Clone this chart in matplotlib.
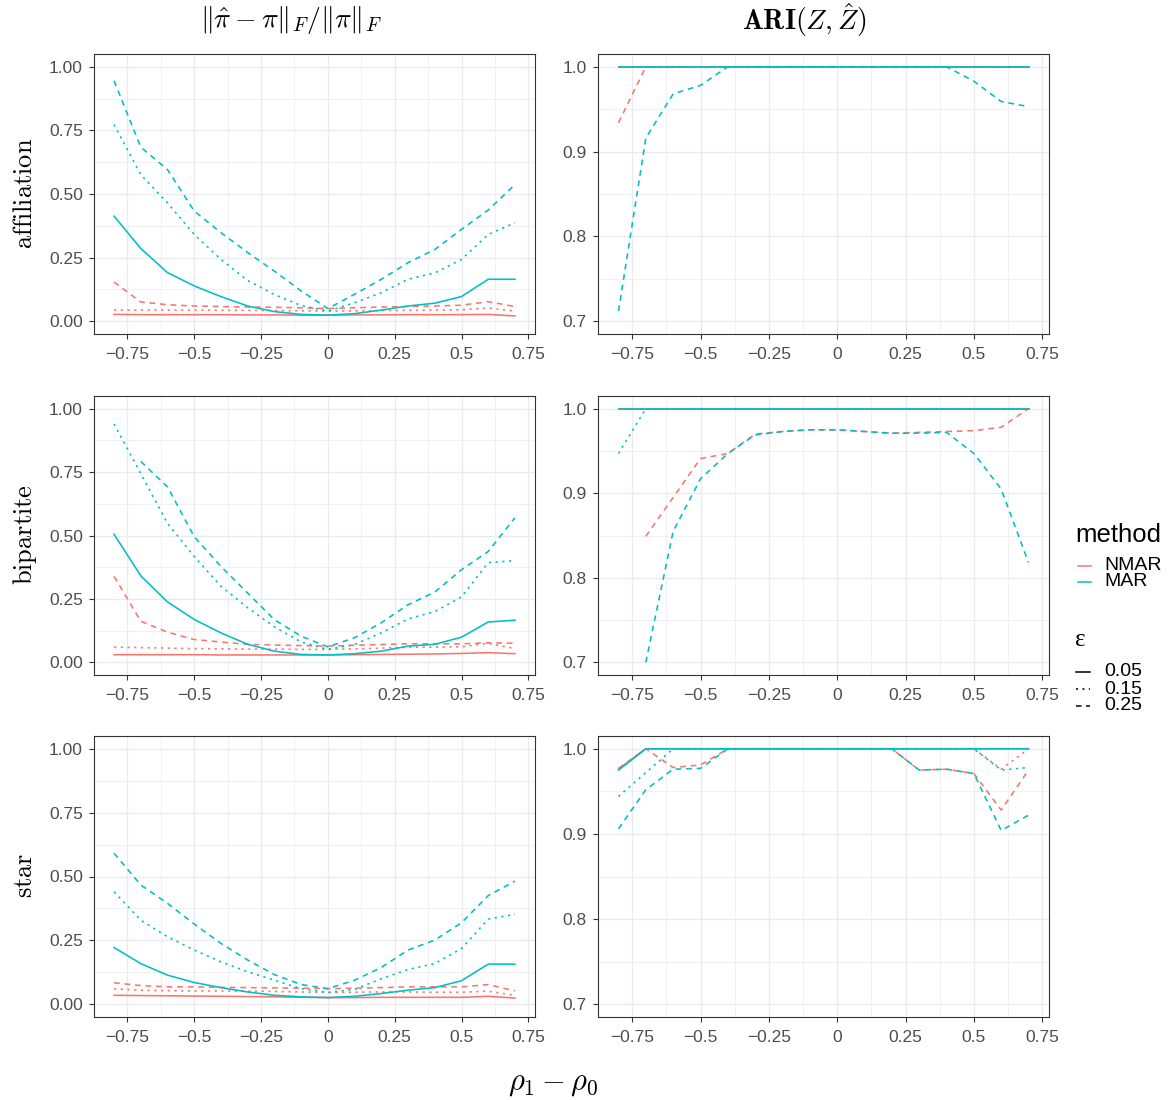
import numpy as np
import matplotlib
matplotlib.use('Agg')
import matplotlib.pyplot as plt
from matplotlib.lines import Line2D

plt.rcParams['font.family'] = ['Liberation Sans', 'DejaVu Sans']
plt.rcParams['mathtext.fontset'] = 'cm'

nan = np.nan
rho = [-0.8, -0.7, -0.6, -0.5, -0.4, -0.3, -0.2, -0.1, 0.0, 0.1, 0.2, 0.3, 0.4, 0.5, 0.6, 0.7]
methods = ['NMAR', 'MAR']
eps = ['0.05', '0.15', '0.25']
networks = ['affiliation', 'bipartite', 'star']

# relative Frobenius error of pi
err_aff = {
    ('NMAR', '0.05'): [0.027, 0.026, 0.026, 0.026, 0.026, 0.025, 0.025, 0.024, 0.024, 0.025, 0.025, 0.026, 0.026, 0.026, 0.027, 0.021],
    ('NMAR', '0.15'): [0.044, 0.044, 0.044, 0.044, 0.043, 0.043, 0.042, 0.041, 0.040, 0.041, 0.042, 0.043, 0.044, 0.045, 0.052, 0.040],
    ('NMAR', '0.25'): [0.154, 0.076, 0.065, 0.060, 0.058, 0.056, 0.055, 0.053, 0.050, 0.053, 0.056, 0.058, 0.060, 0.063, 0.077, 0.058],
    ('MAR', '0.05'): [0.413, 0.286, 0.191, 0.139, 0.097, 0.060, 0.038, 0.027, 0.024, 0.030, 0.044, 0.060, 0.071, 0.097, 0.165, 0.165],
    ('MAR', '0.15'): [0.773, 0.576, 0.465, 0.341, 0.243, 0.160, 0.105, 0.062, 0.040, 0.073, 0.112, 0.165, 0.190, 0.243, 0.341, 0.387],
    ('MAR', '0.25'): [0.945, 0.684, 0.596, 0.433, 0.348, 0.270, 0.197, 0.119, 0.050, 0.106, 0.165, 0.230, 0.282, 0.361, 0.437, 0.537],
}
err_bip = {
    ('NMAR', '0.05'): [0.030, 0.030, 0.030, 0.030, 0.029, 0.029, 0.029, 0.029, 0.029, 0.030, 0.031, 0.032, 0.033, 0.035, 0.038, 0.034],
    ('NMAR', '0.15'): [0.060, 0.058, 0.056, 0.054, 0.053, 0.052, 0.052, 0.051, 0.051, 0.053, 0.056, 0.059, 0.060, 0.061, 0.075, 0.054],
    ('NMAR', '0.25'): [0.339, 0.162, 0.119, 0.090, 0.080, 0.071, 0.068, 0.066, 0.064, 0.067, 0.070, 0.073, 0.073, 0.073, 0.077, 0.075],
    ('MAR', '0.05'): [0.505, 0.341, 0.238, 0.169, 0.116, 0.071, 0.044, 0.031, 0.029, 0.034, 0.044, 0.064, 0.071, 0.099, 0.159, 0.166],
    ('MAR', '0.15'): [0.940, 0.744, 0.548, 0.417, 0.300, 0.215, 0.140, 0.080, 0.051, 0.070, 0.116, 0.171, 0.200, 0.258, 0.393, 0.401],
    ('MAR', '0.25'): [nan, 0.792, 0.692, 0.495, 0.378, 0.273, 0.168, 0.103, 0.061, 0.097, 0.156, 0.227, 0.277, 0.365, 0.437, 0.570],
}
err_star = {
    ('NMAR', '0.05'): [0.035, 0.034, 0.033, 0.032, 0.031, 0.030, 0.029, 0.027, 0.026, 0.026, 0.027, 0.027, 0.027, 0.027, 0.031, 0.024],
    ('NMAR', '0.15'): [0.060, 0.055, 0.053, 0.052, 0.052, 0.051, 0.050, 0.048, 0.046, 0.047, 0.048, 0.048, 0.047, 0.047, 0.051, 0.035],
    ('NMAR', '0.25'): [0.084, 0.073, 0.068, 0.068, 0.066, 0.065, 0.064, 0.063, 0.061, 0.063, 0.065, 0.068, 0.068, 0.068, 0.077, 0.052],
    ('MAR', '0.05'): [0.222, 0.159, 0.114, 0.085, 0.065, 0.048, 0.035, 0.029, 0.026, 0.031, 0.042, 0.055, 0.065, 0.092, 0.157, 0.157],
    ('MAR', '0.15'): [0.440, 0.329, 0.264, 0.212, 0.166, 0.127, 0.094, 0.061, 0.046, 0.058, 0.100, 0.136, 0.159, 0.218, 0.333, 0.352],
    ('MAR', '0.25'): [0.591, 0.467, 0.395, 0.314, 0.238, 0.173, 0.116, 0.077, 0.061, 0.094, 0.144, 0.212, 0.251, 0.319, 0.425, 0.482],
}

# adjusted rand index
ari_aff = {
    ('NMAR', '0.05'): [1.0] * 16,
    ('NMAR', '0.15'): [1.0] * 16,
    ('NMAR', '0.25'): [0.934, 1.0, 1.0, 1.0, 1.0, 1.0, 1.0, 1.0, 1.0, 1.0, 1.0, 1.0, 1.0, 1.0, 1.0, 1.0],
    ('MAR', '0.05'): [1.0] * 16,
    ('MAR', '0.15'): [1.0] * 16,
    ('MAR', '0.25'): [0.712, 0.916, 0.968, 0.978, 1.0, 1.0, 1.0, 1.0, 1.0, 1.0, 1.0, 1.0, 1.0, 0.983, 0.959, 0.953],
}
ari_bip = {
    ('NMAR', '0.05'): [1.0] * 16,
    ('NMAR', '0.15'): [1.0] * 16,
    ('NMAR', '0.25'): [nan, 0.849, 0.895, 0.941, 0.947, 0.970, 0.973, 0.975, 0.975, 0.973, 0.971, 0.972, 0.973, 0.974, 0.978, 1.0],
    ('MAR', '0.05'): [1.0] * 16,
    ('MAR', '0.15'): [0.947, 1.0, 1.0, 1.0, 1.0, 1.0, 1.0, 1.0, 1.0, 1.0, 1.0, 1.0, 1.0, 1.0, 1.0, 1.0],
    ('MAR', '0.25'): [nan, 0.700, 0.855, 0.917, 0.947, 0.969, 0.973, 0.975, 0.975, 0.973, 0.971, 0.971, 0.972, 0.947, 0.905, 0.818],
}
ari_star = {
    ('NMAR', '0.05'): [0.976, 1.0, 1.0, 1.0, 1.0, 1.0, 1.0, 1.0, 1.0, 1.0, 1.0, 1.0, 1.0, 1.0, 1.0, 1.0],
    ('NMAR', '0.15'): [0.976, 1.0, 1.0, 1.0, 1.0, 1.0, 1.0, 1.0, 1.0, 1.0, 1.0, 1.0, 1.0, 1.0, 0.976, 1.0],
    ('NMAR', '0.25'): [0.977, 1.0, 0.978, 0.981, 1.0, 1.0, 1.0, 1.0, 1.0, 1.0, 1.0, 0.975, 0.976, 0.971, 0.928, 0.975],
    ('MAR', '0.05'): [0.975, 1.0, 1.0, 1.0, 1.0, 1.0, 1.0, 1.0, 1.0, 1.0, 1.0, 1.0, 1.0, 1.0, 1.0, 1.0],
    ('MAR', '0.15'): [0.944, 0.972, 1.0, 1.0, 1.0, 1.0, 1.0, 1.0, 1.0, 1.0, 1.0, 1.0, 1.0, 1.0, 0.975, 0.978],
    ('MAR', '0.25'): [0.906, 0.952, 0.976, 0.977, 1.0, 1.0, 1.0, 1.0, 1.0, 1.0, 1.0, 0.975, 0.976, 0.971, 0.904, 0.922],
}

err_data = [err_aff, err_bip, err_star]
ari_data = [ari_aff, ari_bip, ari_star]

colors = {'NMAR': '#F8766D', 'MAR': '#00BFC4'}
styles = {'0.05': '-', '0.15': (0, (1.4, 2.8)), '0.25': (0, (3.6, 3.0))}

x_ticks = [-0.75, -0.5, -0.25, 0, 0.25, 0.5, 0.75]
x_labels = ['\u22120.75', '\u22120.5', '\u22120.25', '0', '0.25', '0.5', '0.75']
x_minor = [-0.625, -0.375, -0.125, 0.125, 0.375, 0.625]
err_ticks = [0, 0.25, 0.5, 0.75, 1.0]
err_labels = ['0.00', '0.25', '0.50', '0.75', '1.00']
err_minor = [0.125, 0.375, 0.625, 0.875]
ari_ticks = [0.7, 0.8, 0.9, 1.0]
ari_labels = ['0.7', '0.8', '0.9', '1.0']
ari_minor = [0.75, 0.85, 0.95]

W, H = 1172, 1100
fig = plt.figure(figsize=(W / 100, H / 100), dpi=100)


def px(x, y):
    return x / W, 1 - y / H


def style_ax(ax, yt, yl, ym, ylim):
    ax.set_xlim(-0.875, 0.775)
    ax.set_ylim(*ylim)
    ax.set_xticks(x_ticks)
    ax.set_xticklabels(x_labels)
    ax.set_xticks(x_minor, minor=True)
    ax.set_yticks(yt)
    ax.set_yticklabels(yl)
    ax.set_yticks(ym, minor=True)
    ax.grid(which='major', color='#EBEBEB', lw=1.0)
    ax.grid(which='minor', color='#EBEBEB', lw=0.5)
    ax.set_axisbelow(True)
    for s in ax.spines.values():
        s.set_color('#333333')
        s.set_linewidth(0.8)
    ax.tick_params(which='major', length=3.5, width=0.8, color='#333333',
                   labelsize=12.5, labelcolor='#4D4D4D')
    ax.tick_params(axis='x', pad=5.5)
    ax.tick_params(axis='y', pad=4.5)
    ax.tick_params(which='minor', length=0)


rows_px = [(54, 334), (396, 675), (736, 1017)]
for i, net in enumerate(networks):
    top, bot = rows_px[i]
    b = 1 - bot / H
    h = (bot - top) / H
    ax1 = fig.add_axes([94 / W, b, 441 / W, h])
    ax2 = fig.add_axes([598 / W, b, 451 / W, h])
    for m in methods:
        for e in eps:
            ax1.plot(rho, err_data[i][(m, e)], color=colors[m], ls=styles[e], lw=1.15)
            ax2.plot(rho, ari_data[i][(m, e)], color=colors[m], ls=styles[e], lw=1.15)
    style_ax(ax1, err_ticks, err_labels, err_minor, (-0.05, 1.05))
    style_ax(ax2, ari_ticks, ari_labels, ari_minor, (0.685, 1.015))
    fig.text(*px(25, (top + bot) / 2 - 1), r'$\mathrm{%s}$' % net, rotation=90,
             ha='center', va='center', fontsize=19)

fig.text(*px(291, 20), r'$\|\hat{\pi}-\pi\|_F/\|\pi\|_F$', ha='center', va='center', fontsize=20)
fig.text(*px(804, 20), r'$\mathbf{ARI}(Z,\hat{Z})$', ha='center', va='center', fontsize=20)
fig.text(*px(553, 1083), r'$\rho_1-\rho_0$', ha='center', va='center', fontsize=22)

# legend
fig.text(*px(1075, 535), 'method', ha='left', va='center', fontsize=18.5)
for j, m in enumerate(methods):
    y = 566 + 16 * j
    fig.add_artist(Line2D([1078 / W, 1091 / W], [1 - y / H] * 2, color=colors[m], lw=1.1))
    fig.text(*px(1104, y), m, ha='left', va='center', fontsize=14)
fig.text(*px(1075, 640), '\u03b5', ha='left', va='center', fontsize=18,
         family=['Liberation Serif', 'DejaVu Serif'])
for j, e in enumerate(eps):
    y = 672 + 17 * j
    fig.add_artist(Line2D([1076 / W, 1090 / W], [1 - y / H] * 2, color='black',
                          ls=styles[e], lw=1.1))
    fig.text(*px(1104, y), e, ha='left', va='center', fontsize=14)

fig.savefig('out.png', dpi=100)
